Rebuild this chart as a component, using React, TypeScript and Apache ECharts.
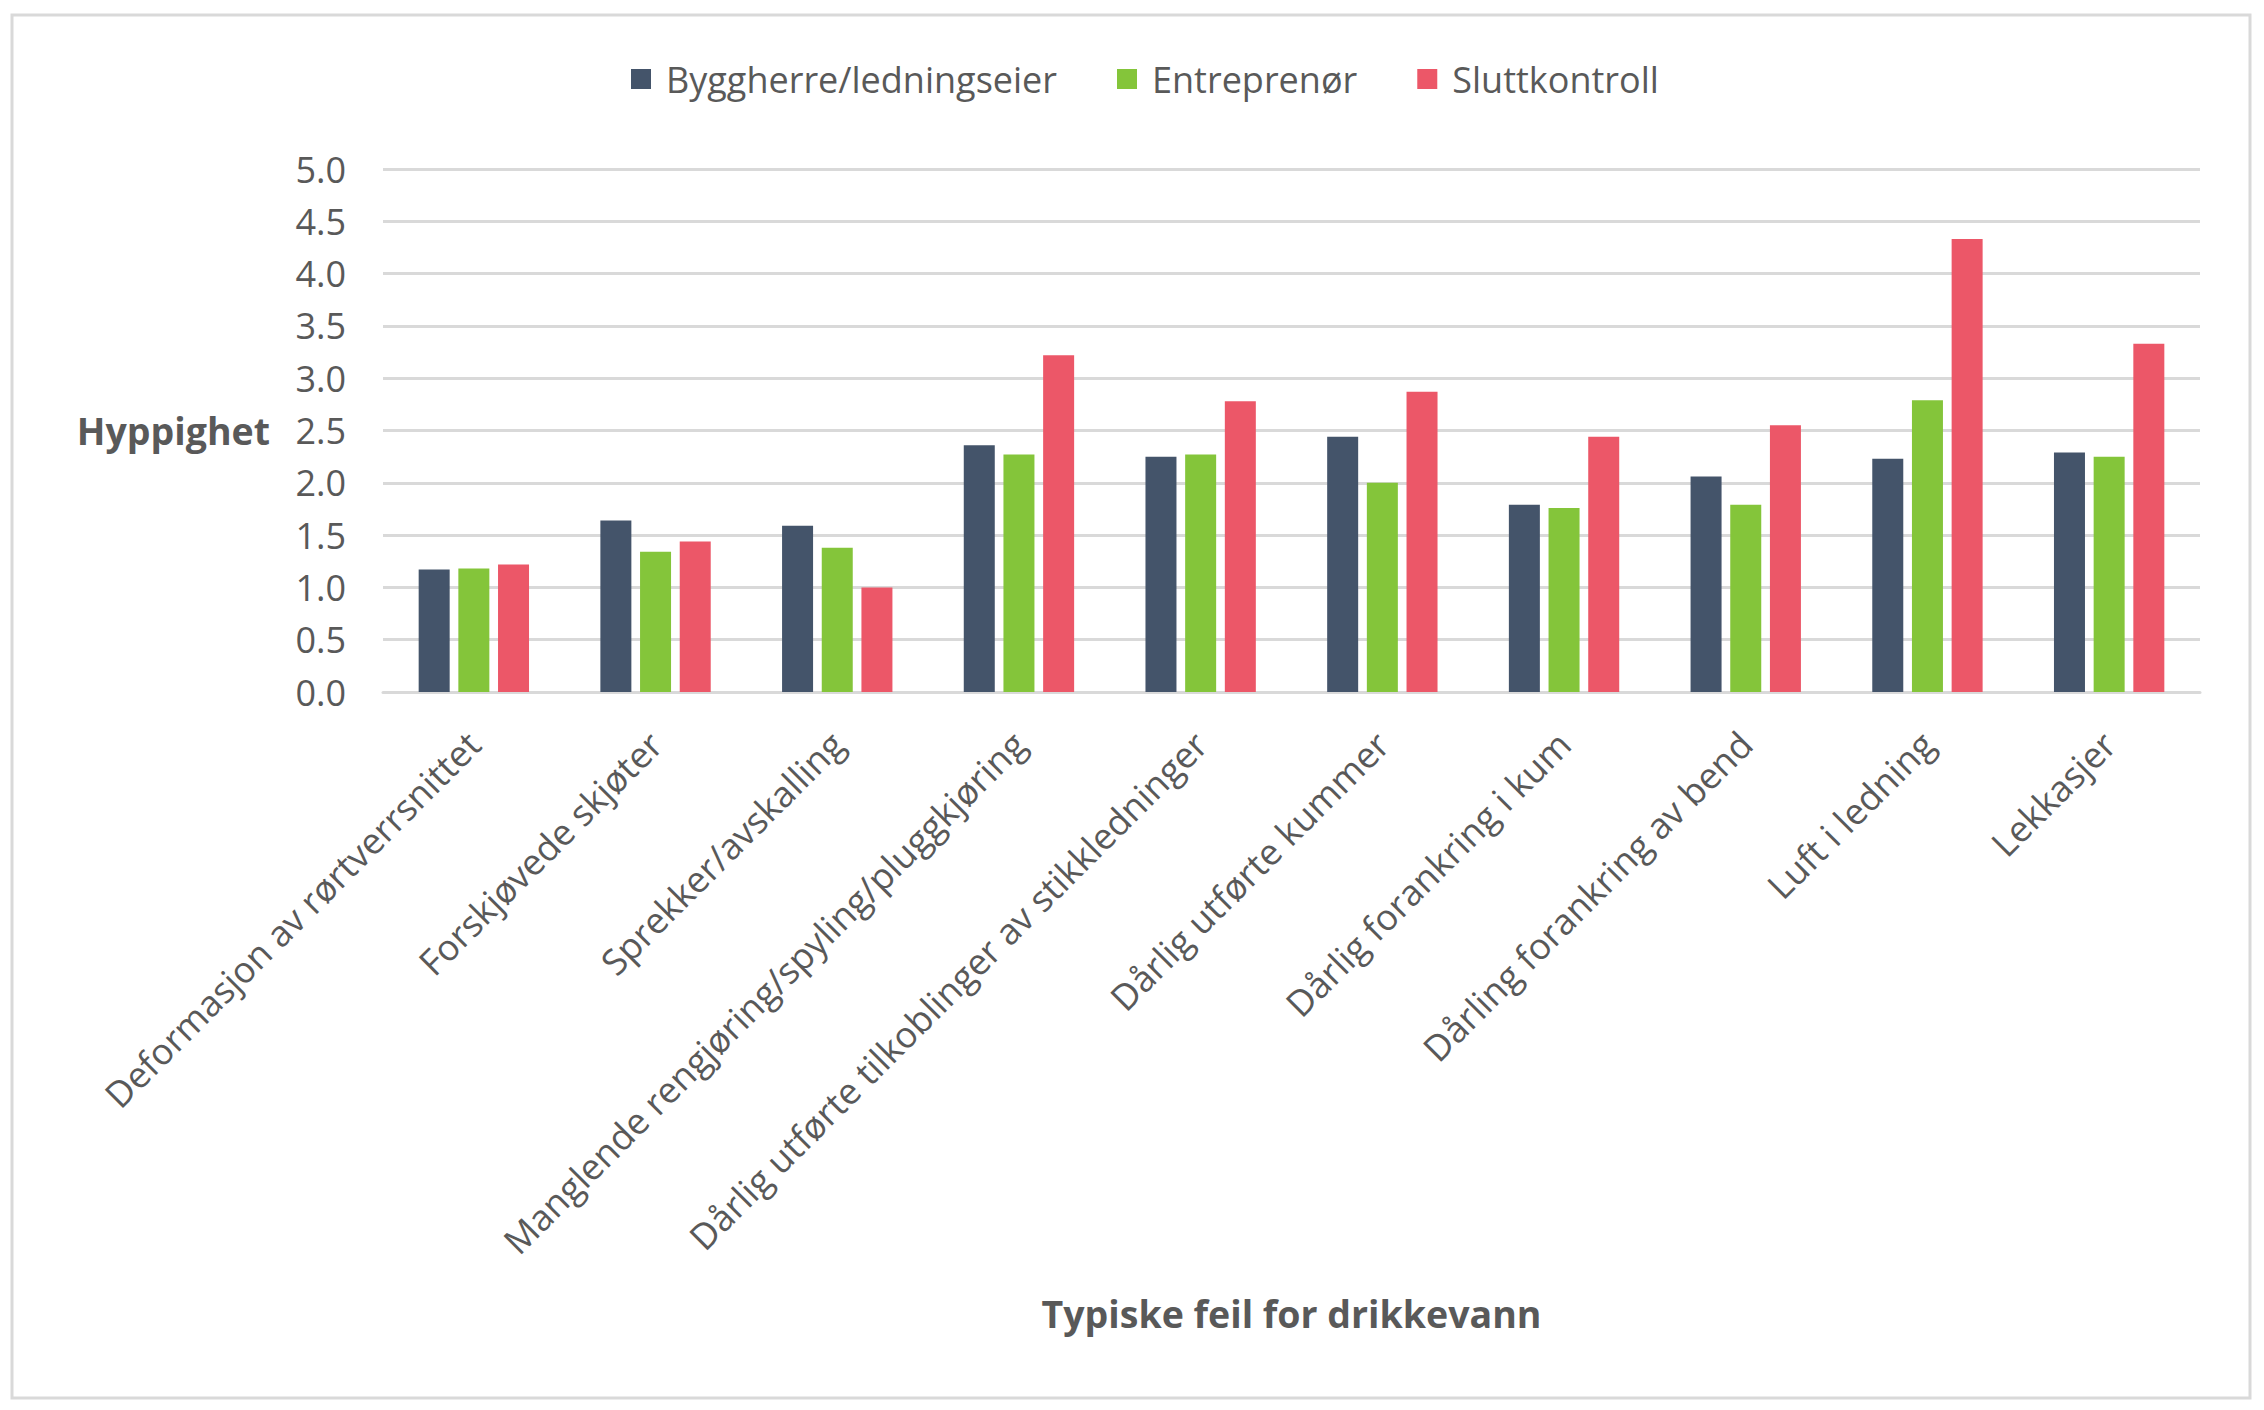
import React, { useEffect, useRef } from "react";
import * as echarts from "echarts";

const categories = [
  "Deformasjon av rørtverrsnittet",
  "Forskjøvede skjøter",
  "Sprekker/avskalling",
  "Manglende rengjøring/spyling/pluggkjøring",
  "Dårlig utførte tilkoblinger av stikkledninger",
  "Dårlig utførte kummer",
  "Dårlig forankring i kum",
  "Dårling forankring av bend",
  "Luft i ledning",
  "Lekkasjer",
];
const byggherre = [1.17, 1.64, 1.59, 2.36, 2.25, 2.44, 1.79, 2.06, 2.23, 2.29];
const entreprenor = [1.18, 1.34, 1.38, 2.27, 2.27, 2.0, 1.76, 1.79, 2.79, 2.25];
const sluttkontroll = [1.22, 1.44, 1.0, 3.22, 2.78, 2.87, 2.44, 2.55, 4.33, 3.33];
const seriesNames = ["Byggherre/ledningseier", "Entreprenør", "Sluttkontroll"];
const colors = ["#44546A", "#84C53A", "#EC5768"];

const FONT = "'Open Sans', 'Noto Sans', sans-serif";
const TXT = "#595959";

export default function App() {
  const ref = useRef<HTMLDivElement>(null);
  useEffect(() => {
    document.body.style.margin = "0";
    const chart = echarts.init(ref.current!, null, { renderer: "svg" });
    const data = [byggherre, entreprenor, sluttkontroll];
    chart.setOption({
      animation: false,
      backgroundColor: "#ffffff",
      textStyle: { fontFamily: FONT, color: TXT },
      graphic: [
        {
          type: "rect",
          shape: { x: 12, y: 15, width: 2238, height: 1383 },
          style: { fill: "none", stroke: "#d9d9d9", lineWidth: 3 },
          silent: true,
        },
      ],
      legend: {
        top: 56,
        left: 626,
        itemWidth: 20,
        itemHeight: 20,
        itemGap: 60,
        icon: "rect",
        textStyle: { fontFamily: FONT, fontSize: 36, color: TXT, padding: [0, 0, 0, 10] },
        data: seriesNames,
      },
      grid: { left: 383, right: 64, top: 169, bottom: 718, containLabel: false },
      xAxis: {
        type: "category",
        data: categories,
        axisTick: { show: false },
        axisLine: { lineStyle: { color: "#d9d9d9", width: 3 } },
        axisLabel: {
          interval: 0,
          rotate: 45,
          margin: 46,
          fontFamily: FONT,
          fontSize: 36,
          color: TXT,
        },
        name: "Typiske feil for drikkevann",
        nameLocation: "middle",
        nameGap: 602,
        nameTextStyle: { fontFamily: FONT, fontSize: 37.5, fontWeight: "bold", color: TXT },
      },
      yAxis: {
        type: "value",
        min: 0,
        max: 5,
        interval: 0.5,
        axisLine: { show: false },
        axisTick: { show: false },
        splitLine: { lineStyle: { color: "#d9d9d9", width: 3 } },
        axisLabel: {
          margin: 37,
          fontFamily: FONT,
          fontSize: 36,
          color: TXT,
          formatter: (v: number) => v.toFixed(1),
        },
        name: "Hyppighet",
        nameLocation: "middle",
        nameRotate: 0,
        nameGap: 113,
        nameTextStyle: {
          fontFamily: FONT,
          fontSize: 37.5,
          fontWeight: "bold",
          color: TXT,
          align: "right",
          verticalAlign: "middle",
        },
      },
      series: seriesNames.map((n, i) => ({
        name: n,
        type: "bar",
        data: data[i],
        barWidth: 31,
        barGap: "28%",
        itemStyle: { color: colors[i] },
      })),
    });
    return () => chart.dispose();
  }, []);
  return <div ref={ref} style={{ width: 2264, height: 1410 }} />;
}
